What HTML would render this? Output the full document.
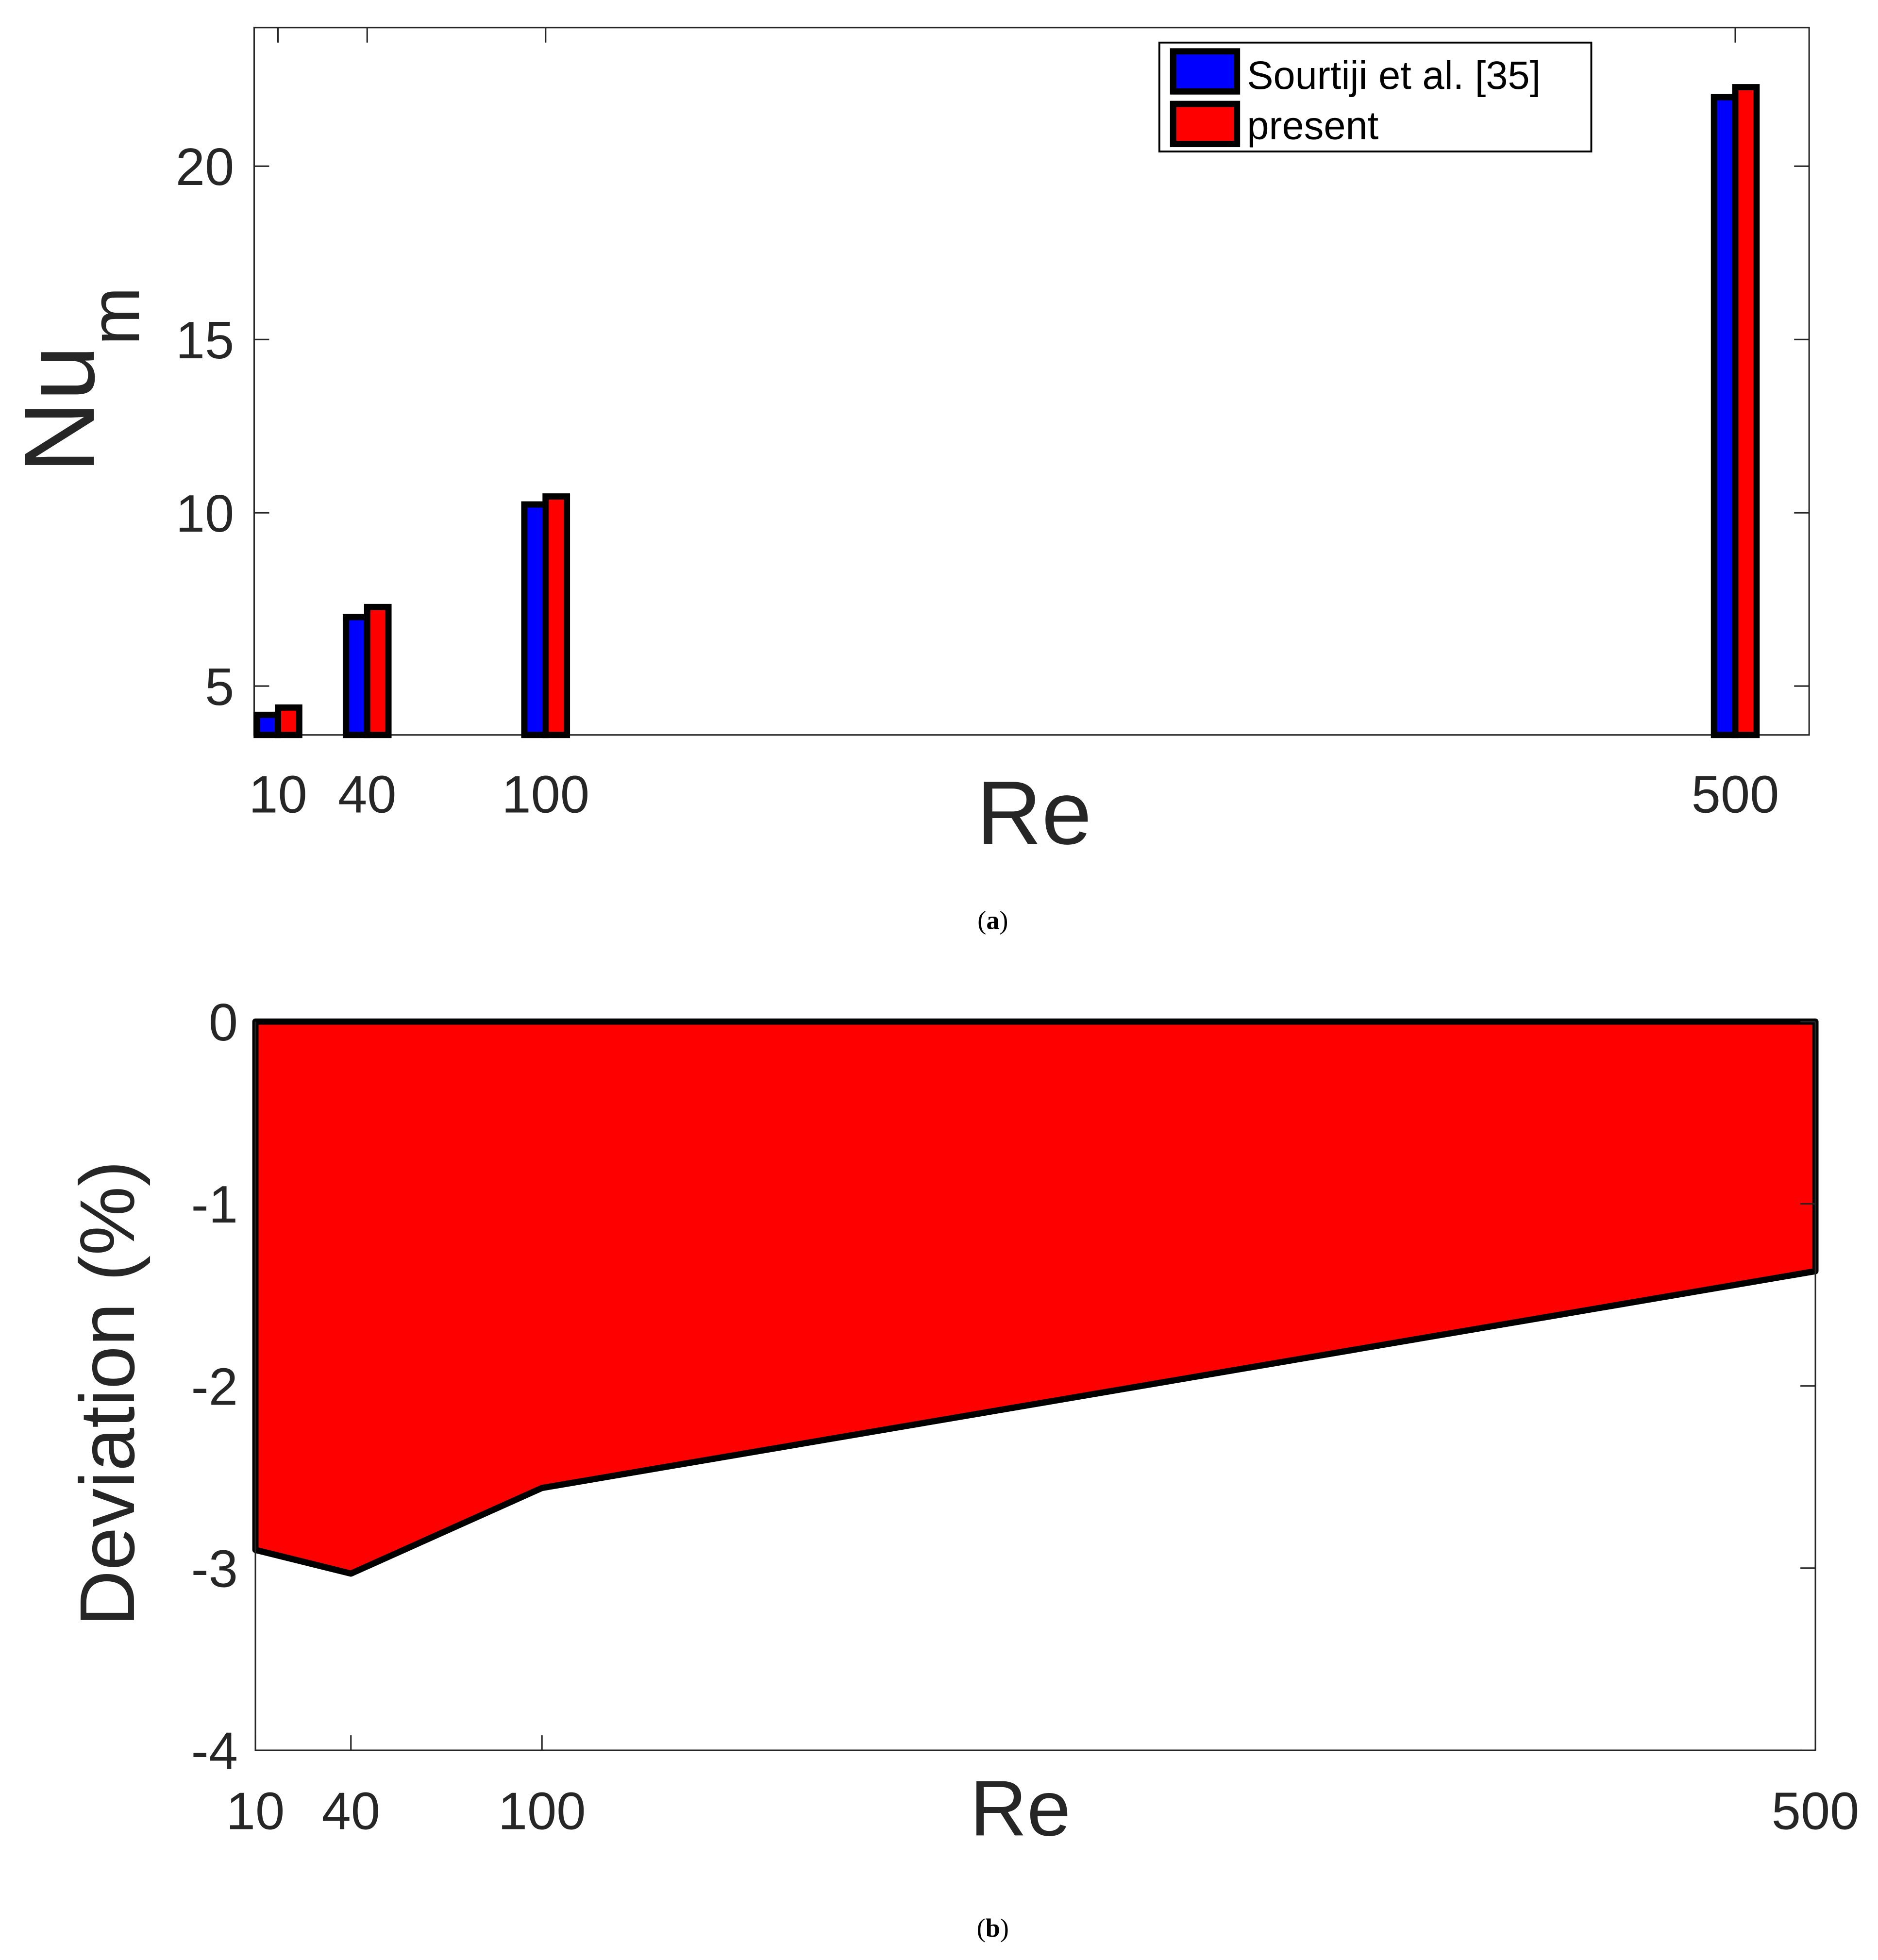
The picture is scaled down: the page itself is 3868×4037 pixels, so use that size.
<!DOCTYPE html>
<html><head><meta charset="utf-8"><style>
html,body{margin:0;padding:0;background:#fff}
svg{display:block}
text{font-family:"Liberation Sans",sans-serif;fill:#262626}
</style></head><body>
<svg id="chart" width="3868" height="4037" viewBox="0 0 1500 1565.5" xmlns="http://www.w3.org/2000/svg">
<g id="top"></g>
<g id="bot"></g>
<text x="793" y="742" font-size="21" text-anchor="middle" style="font-family:'Liberation Serif',serif;fill:#000">(<tspan font-weight="bold">a</tspan>)</text>
<text x="793" y="1547" font-size="21" text-anchor="middle" style="font-family:'Liberation Serif',serif;fill:#000">(<tspan font-weight="bold">b</tspan>)</text>
</svg>
<script>
const categories=[10,40,100,500];
const sourtiji=[4.17,6.99,10.24,21.99];
const present=[4.38,7.28,10.47,22.28];
const yTicksTop=[5,10,15,20];
const deviation=[-2.90,-3.03,-2.56,-1.37];
const yTicksBot=[0,-1,-2,-3,-4];
const NS="http://www.w3.org/2000/svg";
function mk(parent,tag,attrs,txt){const e=document.createElementNS(NS,tag);for(const k in attrs)e.setAttribute(k,attrs[k]);if(txt!==undefined)e.textContent=txt;parent.appendChild(e);return e;}
// top chart
const T=document.getElementById('top');
const tL=203,tR=1445,tT=22,tB=587,yMin=3.59,yMax=24.0;
const xT=v=>222+(v-10)*(1386-222)/490;
const yT=v=>tB-(v-yMin)*(tB-tT)/(yMax-yMin);
let r=mk(T,'rect',{x:tL,y:tT,width:tR-tL,height:tB-tT,fill:'none',stroke:'#262626','stroke-width':1.2});

yTicksTop.forEach(v=>{
  let l=mk(T,'line',{x1:tR,x2:tR-12,y1:yT(v),y2:yT(v),stroke:'#262626','stroke-width':1.2});
  
  let l2=mk(T,'line',{x1:tL,x2:tL+12,y1:yT(v),y2:yT(v),stroke:'#262626','stroke-width':1.2});
  
  let t=mk(T,'text',{x:tL-16,y:yT(v)+15,'font-size':42,'text-anchor':'end'},String(v));
  
});
categories.forEach((c,i)=>{
  let l=mk(T,'line',{x1:xT(c),x2:xT(c),y1:tT,y2:tT+12,stroke:'#262626','stroke-width':1.2});
  
  let t=mk(T,'text',{x:xT(c),y:649,'font-size':42,'text-anchor':'middle'},String(c));
  
  const w=17;
  let b=mk(T,'rect',{x:xT(c)-w,y:yT(sourtiji[i]),width:w,height:tB-yT(sourtiji[i]),fill:'#0000ff',stroke:'#000','stroke-width':5});
  
  let b2=mk(T,'rect',{x:xT(c),y:yT(present[i]),width:w,height:tB-yT(present[i]),fill:'#ff0000',stroke:'#000','stroke-width':5});
  
});
let xa=mk(T,'text',{x:826,y:674,'font-size':72,'text-anchor':'middle'},'Re');

let ya=mk(T,'text',{x:0,y:0,'font-size':80,transform:'translate(75,378) rotate(-90)'},'Nu');

let ys=mk(ya,'tspan',{'font-size':56,dy:'36'},'m');

// legend
let lg=mk(T,'g',{});
let lb=mk(lg,'rect',{x:926,y:34,width:345,height:87,fill:'#fff',stroke:'#000','stroke-width':1.5});

let s1=mk(lg,'rect',{x:937,y:41,width:51,height:32,fill:'#0000ff',stroke:'#000','stroke-width':5});

let s2=mk(lg,'rect',{x:937,y:83,width:51,height:32,fill:'#ff0000',stroke:'#000','stroke-width':5});

let lt1=mk(lg,'text',{x:996,y:71,'font-size':31.5,style:'fill:#000'},'Sourtiji et al. [35]');

let lt2=mk(lg,'text',{x:996,y:111,'font-size':31.5,style:'fill:#000'},'present');

// bottom chart
const B=document.getElementById('bot');
const bL=204,bR=1450,bT=816,bB=1398;
const xB=v=>bL+(v-10)*(bR-bL)/490;
const yB=v=>bT+(0-v)*(bB-bT)/4;
let pts=[[xB(10),yB(0)],[xB(500),yB(0)]];
for(let i=categories.length-1;i>=0;i--)pts.push([xB(categories[i]),yB(deviation[i])]);
let area=mk(B,'polygon',{points:pts.map(p=>p.join(',')).join(' '),fill:'#ff0000',stroke:'#000','stroke-width':5,'stroke-linejoin':'round'});

let ax1=mk(B,'path',{d:`M${bL},${bT} V${bB} H${bR} V${bT}`,fill:'none',stroke:'#262626','stroke-width':1.2});

yTicksBot.forEach(v=>{
  let l=mk(B,'line',{x1:bR,x2:bR-12,y1:yB(v),y2:yB(v),stroke:'#262626','stroke-width':1.2});
  
  let t=mk(B,'text',{x:bL-14,y:yB(v)+15,'font-size':42,'text-anchor':'end'},String(v));
  
});
categories.forEach(c=>{
  let l=mk(B,'line',{x1:xB(c),x2:xB(c),y1:bB,y2:bB-12,stroke:'#262626','stroke-width':1.2});
  
  let t=mk(B,'text',{x:xB(c),y:1461,'font-size':42,'text-anchor':'middle'},String(c));
  
});
let xb=mk(B,'text',{x:815,y:1466,'font-size':63,'text-anchor':'middle'},'Re');

let yb=mk(B,'text',{x:0,y:0,'font-size':62,'text-anchor':'middle',transform:'translate(107,1113) rotate(-90)'},'Deviation (%)');

</script>
</body></html>
